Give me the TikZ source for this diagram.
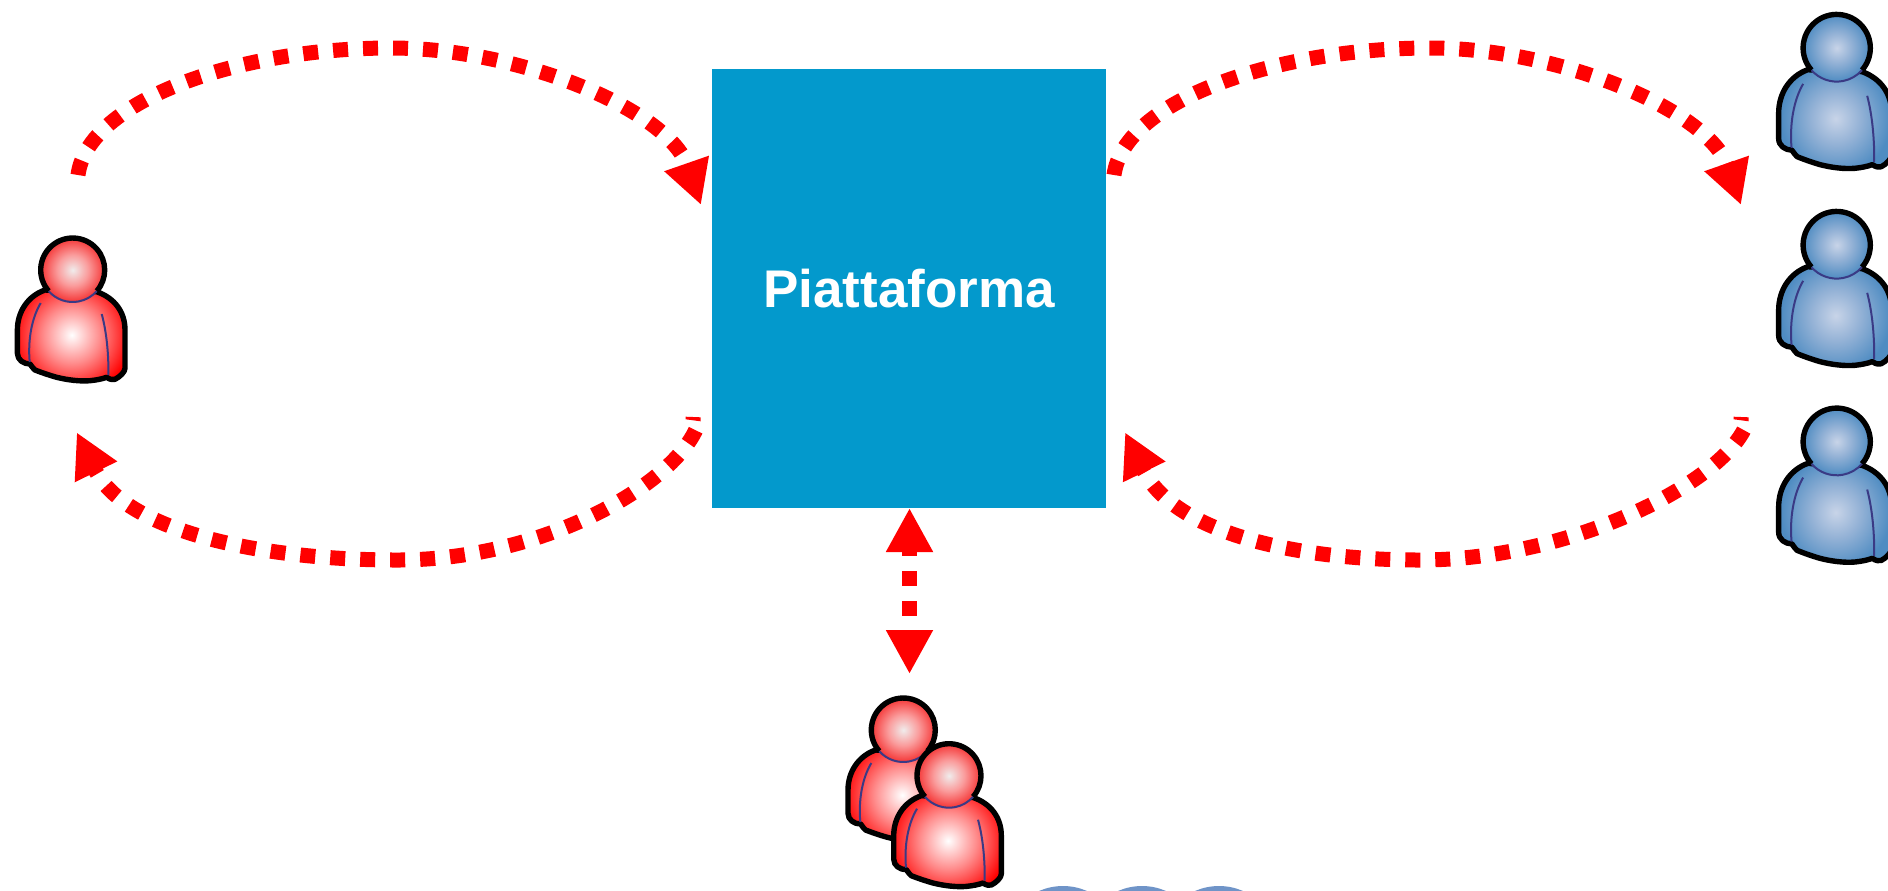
\documentclass[tikz,border=0pt]{standalone}
\usepackage{fontspec}
\setmainfont{Liberation Sans}
\usetikzlibrary{arrows.meta}
\definecolor{boxblue}{HTML}{0399CC}
\definecolor{seam}{HTML}{3A3A85}
\definecolor{peek}{HTML}{6F94C8}
\definecolor{redcore}{HTML}{F0ECEC}
\definecolor{redmid}{HTML}{FA9C9C}
\definecolor{rededge}{HTML}{F53535}
\pgfdeclareradialshading{redbodyshade}{\pgfpointorigin}{color(0bp)=(white); color(7.8bp)=(red!45); color(16.5bp)=(red); color(25bp)=(red); color(50bp)=(red)}
\pgfdeclareradialshading{redheadshade}{\pgfpointorigin}{color(0bp)=(redcore); color(12bp)=(redmid); color(25bp)=(rededge); color(50bp)=(rededge)}
\definecolor{bluecore}{HTML}{C8D4E8}
\definecolor{bluemid}{HTML}{94B2D6}
\definecolor{blueedge}{HTML}{4F8CC2}
\pgfdeclareradialshading{bluebodyshade}{\pgfpointorigin}{color(0bp)=(bluecore); color(6.5bp)=(bluemid); color(14.5bp)=(blueedge); color(25bp)=(blueedge); color(50bp)=(blueedge)}
\pgfdeclareradialshading{blueheadshade}{\pgfpointorigin}{color(0bp)=(bluecore); color(11bp)=(bluemid); color(25bp)=(blueedge); color(50bp)=(blueedge)}
\newcommand{\personbody}{(-27.7,20) .. controls (-45,26) and (-55.3,42) .. (-55.3,60) -- (-55.3,83.3) .. controls (-55.3,90) and (-49,94) .. (-42.7,94) .. controls (-40.5,97) and (-39,99) .. (-37.7,100) .. controls (-30,103) and (-24,105) .. (-16,107.3) .. controls (-5,110) and (7,111.5) .. (17.3,110.7) .. controls (24,110) and (29,109) .. (34,107.3) .. controls (37,109.5) and (40,110) .. (42.3,109.3) .. controls (47,107) and (52.3,102) .. (52.3,98.3) -- (52.3,60) .. controls (52.3,42) and (42,28) .. (24,21.7) -- cycle}
\newcommand{\personfigure}[3]{%
  \begin{scope}[yscale=#3]
    \begin{scope}
      \clip \personbody;
      \shade[shading=#1] (-1,65) circle[radius=90];
    \end{scope}
    \draw[personline] \personbody;
    \draw[seamline] (-32,33) .. controls (-41,48) and (-45,70) .. (-43,92);
    \draw[seamline] (29,44) .. controls (34,62) and (36,85) .. (35.7,105);
  \end{scope}
  \shade[shading=#2] (0,0) circle[radius=32];
  \draw[seamline] (-24.15,21) arc[start angle=139,end angle=41,radius=32];
  \draw[personline] (-24.15,21) arc[start angle=139,end angle=401,radius=32];
}
\tikzset{
  x=0.5pt, y=-0.5pt,
  personline/.style={draw=black,line width=2.7pt,line join=round},
  seamline/.style={draw=seam,line width=1pt},
  platform/.style={fill=boxblue,minimum width=197.2pt,minimum height=219.7pt,inner sep=0pt,text=white,font=\fontsize{26.5pt}{30pt}\selectfont\bfseries},
  flowline/.style={draw=red,line width=7.5pt,dash pattern=on 7.5pt off 7.5pt},
  flowtip/.style={-{Triangle[length=22pt,width=22pt,quick]}},
  bothtip/.style={{Triangle[length=22pt,width=22pt,quick]}-{Triangle[length=22pt,width=22pt,quick]}},
  redperson/.pic={\personfigure{redbodyshade}{redheadshade}{1}},
  blueperson/.pic={\personfigure{bluebodyshade}{blueheadshade}{1.035}},
}
\begin{document}
\begin{tikzpicture}
\useasboundingbox (0,0) rectangle (1888,890);
\clip (0,0) rectangle (1888,890);
\fill[white] (0,0) rectangle (1888,890);

\node[platform] (box) at (909,288.3) {Piattaforma};

\pic at (72.7,270) {redperson};
\pic at (903.3,730) {redperson};
\pic at (949,775.7) {redperson};
\pic[scale=1.05] at (1836.7,48) {blueperson};
\pic[scale=1.05] at (1836.7,245) {blueperson};
\pic[scale=1.05] at (1836.7,441.7) {blueperson};

\fill[peek] (1063,946) circle[radius=60];
\fill[peek] (1142,946) circle[radius=60];
\fill[peek] (1219,946) circle[radius=60];

\coordinate (tl) at (78,175);
\coordinate (tlend) at (701,205);
\coordinate (tr) at (1114,175);
\coordinate (trend) at (1741,205);
\coordinate (bl) at (700,418);
\coordinate (blend) at (76.7,432.3);
\coordinate (br) at (1748.5,418);
\coordinate (brend) at (1125,432.3);
\coordinate (vtop) at (909.5,508);
\coordinate (vbot) at (909.5,674);

\draw[flowline,flowtip] (tl) .. controls (88,100) and (240,48) .. (391,48) .. controls (520,48) and (668,110) .. (tlend);
\draw[flowline,flowtip] (tr) .. controls (1124,100) and (1278,48) .. (1430,48) .. controls (1559,48) and (1708,110) .. (trend);
\draw[flowline,flowtip,dash phase=8.5pt] (bl) .. controls (686,478) and (550,560) .. (397,560) .. controls (260,560) and (125,531) .. (blend);
\draw[flowline,flowtip,dash phase=8.5pt] (br) .. controls (1734,478) and (1575,560) .. (1420,560) .. controls (1290,560) and (1173,531) .. (brend);
\draw[flowline,bothtip,dash phase=4pt] (vtop) -- (vbot);

\fill[red] (685.7,416.7) -- (700.7,417.3) -- (700.7,421.3) -- (685.7,419.3) -- cycle;
\fill[red] (1733.7,416.7) -- (1748.7,417.3) -- (1748.7,421.3) -- (1733.7,419.3) -- cycle;
\end{tikzpicture}
\end{document}
